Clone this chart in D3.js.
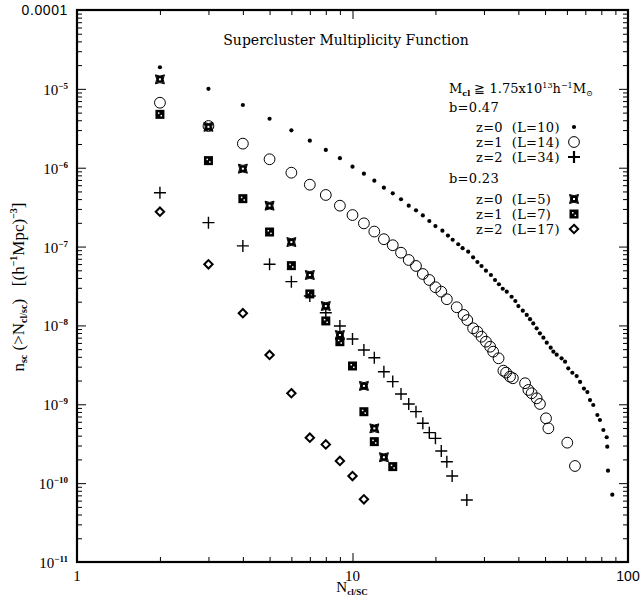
<!DOCTYPE html>
<html>
<head>
<meta charset="utf-8">
<script src="https://cdn.jsdelivr.net/npm/d3@7"></script>
<style>
  body { margin: 0; background: #fff; }
  .tick line { stroke: #000; stroke-width: 1px; }
  text { fill: #000; }
</style>
</head>
<body>
<div id="chart-area"></div>
<script>
// b=0.47, z=0 (L=10) : small dots
const b47z0N = [2,3,4,5,6,7,8,9,10,11,12,13,14,15,16,17,18,19,20,
    21.2,22.2,23.1,24.2,25.1,26.3,27.4,28.4,29.4,30.5,31.8,
    32.9,34.0,35.1,36.3,37.8,39.0,40.0,41.5,42.9,44.1,45.3,46.6,47.9,49.3,50.7,52.4,53.6,55.1,
    57.4,59.1,60.7,62.8,65.1,67.0,69.2,71.2,72.8,74.8,77.4,79.1,81.4,83.7,84.1,84.6,87.7];
const b47z0n = [1.88e-5,1.00e-5,6.24e-6,4.18e-6,2.98e-6,2.20e-6,1.68e-6,1.32e-6,1.03e-6,8.40e-7,
    6.85e-7,5.58e-7,4.74e-7,3.98e-7,3.30e-7,2.88e-7,2.48e-7,2.11e-7,1.82e-7,
    1.59e-7,1.38e-7,1.22e-7,1.07e-7,9.53e-8,8.61e-8,7.31e-8,6.37e-8,5.67e-8,4.94e-8,4.36e-8,
    3.77e-8,3.33e-8,2.92e-8,2.68e-8,2.31e-8,2.04e-8,1.76e-8,1.54e-8,1.36e-8,1.20e-8,1.06e-8,
    9.20e-9,7.95e-9,7.00e-9,6.04e-9,5.22e-9,4.65e-9,4.26e-9,3.83e-9,3.47e-9,2.86e-9,2.51e-9,
    2.28e-9,1.92e-9,1.58e-9,1.43e-9,1.13e-9,9.79e-10,7.31e-10,6.32e-10,4.72e-10,3.82e-10,
    2.90e-10,1.44e-10,7.14e-11];

// b=0.47, z=1 (L=14) : open circles
const b47z1N = [2,3,4,5,6,7,8,9,10,11,12,13,14,15,16,17,18,19,20,21,22,
    23.9,25.3,26.1,27.4,28.4,29.4,30.5,31.6,32.4,33.9,35.3,36.1,37.3,38.2,
    42.3,43.5,44.7,46.6,47.9,50.4,51.4,60.2,64.2];
const b47z1n = [6.67e-6,3.38e-6,2.02e-6,1.28e-6,8.65e-7,6.09e-7,4.51e-7,3.30e-7,2.51e-7,1.97e-7,
    1.55e-7,1.24e-7,1.04e-7,8.36e-8,6.76e-8,5.68e-8,4.49e-8,3.77e-8,3.05e-8,2.68e-8,2.15e-8,
    1.70e-8,1.36e-8,1.17e-8,9.20e-9,8.34e-9,7.20e-9,6.22e-9,5.37e-9,4.65e-9,3.83e-9,2.67e-9,
    2.52e-9,2.24e-9,2.14e-9,1.85e-9,1.52e-9,1.38e-9,1.19e-9,1.01e-9,6.64e-10,4.96e-10,
    3.26e-10,1.65e-10];

// b=0.47, z=2 (L=34) : pluses
const b47z2N = [2,3,4,5,6,7,8,9,10,11,12,13,14,15,16,17,18,19,20,21,22,23,26];
const b47z2n = [4.82e-7,2.01e-7,1.02e-7,5.96e-8,3.59e-8,2.36e-8,1.45e-8,9.84e-9,6.73e-9,4.89e-9,
    3.90e-9,2.59e-9,1.94e-9,1.35e-9,1.01e-9,8.06e-10,5.74e-10,4.37e-10,3.70e-10,2.56e-10,
    1.87e-10,1.23e-10,6.12e-11];

// b=0.23, z=0 (L=5) : filled stars
const b23z0N = [2,3,4,5,6,7,8,9,11,12,13];
const b23z0n = [1.32e-5,3.30e-6,9.72e-7,3.30e-7,1.14e-7,4.36e-8,1.76e-8,7.56e-9,1.71e-9,4.95e-10,2.13e-10];

// b=0.23, z=1 (L=7) : filled squares
const b23z1N = [2,3,4,5,6,7,8,9,10,11,12,14];
const b23z1n = [4.75e-6,1.23e-6,4.05e-7,1.53e-7,5.73e-8,2.51e-8,1.14e-8,6.22e-9,3.06e-9,8.05e-10,3.36e-10,1.62e-10];

// b=0.23, z=2 (L=17) : open diamonds
const b23z2N = [2,3,4,5,6,7,8,9,10,11];
const b23z2n = [2.77e-7,5.96e-8,1.43e-8,4.22e-9,1.38e-9,3.77e-10,3.10e-10,1.91e-10,1.23e-10,6.24e-11];

const yDecades = [1e-4,1e-5,1e-6,1e-7,1e-8,1e-9,1e-10,1e-11];
const yExponents = ["-5","-6","-7","-8","-9","-10","-11"];
const xLabels = [1, 10, 100];

const W = 642, H = 605;
const margin = { left: 77, right: 628, top: 10, bottom: 562 };

const svg = d3.select("#chart-area").append("svg")
    .attr("width", W)
    .attr("height", H);

const x = d3.scaleLog().domain([1, 100]).range([margin.left, margin.right]);
const y = d3.scaleLog().domain([1e-11, 1e-4]).range([margin.bottom, margin.top]);

// minor tick values
const xMinor = [];
[1, 10].forEach(d => { for (let k = 2; k <= 9; k++) xMinor.push(d * k); });
const yMinor = [];
yDecades.slice(1).forEach(d => { for (let k = 2; k <= 9; k++) yMinor.push(d * k); });

function tickAxis(gen, vals, size, tr) {
    const g = svg.append("g")
        .attr("transform", tr)
        .call(gen.tickValues(vals).tickSize(-size).tickFormat(""));
    g.select(".domain").remove();
    return g;
}
tickAxis(d3.axisBottom(x), xMinor, 5, "translate(0," + margin.bottom + ")");
tickAxis(d3.axisBottom(x), [10], 9, "translate(0," + margin.bottom + ")");
tickAxis(d3.axisTop(x), xMinor, 5, "translate(0," + margin.top + ")");
tickAxis(d3.axisTop(x), [10], 9, "translate(0," + margin.top + ")");
tickAxis(d3.axisLeft(y), yMinor, 5, "translate(" + margin.left + ",0)");
tickAxis(d3.axisLeft(y), yDecades, 9, "translate(" + margin.left + ",0)");
tickAxis(d3.axisRight(y), yMinor, 5, "translate(" + margin.right + ",0)");
tickAxis(d3.axisRight(y), yDecades, 9, "translate(" + margin.right + ",0)");

// frame
svg.append("rect")
    .attr("x", margin.left).attr("y", margin.top)
    .attr("width", margin.right - margin.left).attr("height", margin.bottom - margin.top)
    .attr("fill", "none")
    .attr("stroke", "#000")
    .attr("stroke-width", 2.2);

// y tick labels
svg.append("text")
    .attr("x", 68).attr("y", y(1e-4) + 5)
    .attr("text-anchor", "end")
    .style("font-family", "Liberation Sans")
    .style("font-size", "14px")
    .style("letter-spacing", "0.6px")
    .text("0.0001");

yDecades.slice(1).forEach((d, i) => {
    const t = svg.append("text")
        .attr("x", 68).attr("y", y(d) + 6)
        .attr("text-anchor", "end")
        .style("font-family", "Liberation Serif")
        .style("font-size", "15px");
    t.append("tspan").text("10");
    t.append("tspan")
        .attr("dy", -6)
        .style("font-size", "9px")
        .style("font-weight", "bold")
        .text(yExponents[i].replace("-", "\u2212"));
});

// x tick labels
xLabels.forEach(d => {
    svg.append("text")
        .attr("x", x(d)).attr("y", 581)
        .attr("text-anchor", "middle")
        .style("font-family", d === 100 ? "Liberation Sans" : "Liberation Serif")
        .style("font-size", d === 100 ? "14px" : "15px")
        .text(d);
});

// axis titles
const xt = svg.append("text")
    .attr("x", 352).attr("y", 592)
    .attr("text-anchor", "middle")
    .style("font-family", "Liberation Serif")
    .style("font-size", "15px");
xt.append("tspan").text("N");
xt.append("tspan").attr("dy", 3).style("font-size", "9px").style("font-weight", "bold").text("cl/SC");

const yt = svg.append("text")
    .attr("transform", "translate(24,287) rotate(-90)")
    .attr("text-anchor", "middle")
    .style("font-family", "Liberation Serif")
    .style("font-size", "17px");
yt.append("tspan").text("n");
yt.append("tspan").attr("dy", 3).style("font-size", "10px").style("font-weight", "bold").text("sc");
yt.append("tspan").attr("dy", -3).text(" (>N");
yt.append("tspan").attr("dy", 3).style("font-size", "10px").style("font-weight", "bold").text("cl/sc");
yt.append("tspan").attr("dy", -3).text(")\u00a0\u00a0\u00a0[(h");
yt.append("tspan").attr("dy", -7).style("font-size", "10px").style("font-weight", "bold").text("\u22121");
yt.append("tspan").attr("dy", 7).text("Mpc)");
yt.append("tspan").attr("dy", -7).style("font-size", "10px").style("font-weight", "bold").text("\u22123");
yt.append("tspan").attr("dy", 7).text("]");

// title
svg.append("text")
    .attr("x", 346).attr("y", 45)
    .attr("text-anchor", "middle")
    .style("font-family", "DejaVu Serif")
    .style("font-size", "14px")
    .text("Supercluster Multiplicity Function");

// marker drawers
const markers = {
    dot: g => g.append("circle").attr("r", 2.1).attr("fill", "#000"),
    circle: g => g.append("circle").attr("r", 5.4).attr("fill", "none")
        .attr("stroke", "#000").attr("stroke-width", 1),
    plus: g => g.append("path").attr("d", "M-6,0H6M0,-6V6")
        .attr("stroke", "#000").attr("stroke-width", 1.4),
    star: g => {
        g.append("path")
            .attr("d", "M-4.5,-4.5Q0,-2 4.5,-4.5Q2,0 4.5,4.5Q0,2 -4.5,4.5Q-2,0 -4.5,-4.5Z")
            .attr("fill", "#000").attr("stroke", "#000").attr("stroke-width", 1);
        g.append("rect").attr("x", -1).attr("y", -1).attr("width", 2).attr("height", 2).attr("fill", "#fff");
    },
    square: g => {
        g.append("rect").attr("x", -4.5).attr("y", -4.5).attr("width", 9).attr("height", 9).attr("fill", "#000");
        g.append("rect").attr("x", -2).attr("y", -2).attr("width", 1.5).attr("height", 1.5).attr("fill", "#fff");
        g.append("rect").attr("x", 0.6).attr("y", 0.6).attr("width", 1.5).attr("height", 1.5).attr("fill", "#fff");
    },
    diamond: g => g.append("path").attr("d", "M0,-4.2L4.2,0L0,4.2L-4.2,0Z")
        .attr("fill", "#fff").attr("stroke", "#000").attr("stroke-width", 2)
};

const series = [
    { N: b23z2N, n: b23z2n, m: "diamond" },
    { N: b23z1N, n: b23z1n, m: "square" },
    { N: b47z2N, n: b47z2n, m: "plus" },
    { N: b23z0N, n: b23z0n, m: "star" },
    { N: b47z1N, n: b47z1n, m: "circle" },
    { N: b47z0N, n: b47z0n, m: "dot" }
];

series.forEach(s => {
    const pts = d3.zip(s.N, s.n);
    svg.append("g").selectAll("g")
        .data(pts)
        .join("g")
        .attr("transform", d => "translate(" + x(d[0]) + "," + y(d[1]) + ")")
        .each(function() { markers[s.m](d3.select(this)); });
});

// legend
const lg = svg.append("g")
    .style("font-family", "DejaVu Serif")
    .style("font-size", "13px");

const mt = lg.append("text").attr("x", 449).attr("y", 93);
mt.append("tspan").text("M");
mt.append("tspan").attr("dy", 3).style("font-size", "8px").style("font-weight", "bold").text("cl");
mt.append("tspan").attr("dy", -3).text(" \u2267 1.75x10");
mt.append("tspan").attr("dy", -5).style("font-size", "8px").text("13");
mt.append("tspan").attr("dy", 5).text("h");
mt.append("tspan").attr("dy", -5).style("font-size", "8px").text("\u22121");
mt.append("tspan").attr("dy", 5).text("M");
mt.append("tspan").attr("dy", 3).style("font-size", "8px").text("\u2299");

const legendRows = [
    { label: "b=0.47", y: 112, x: 449 },
    { label: "z=0  (L=10)", y: 132, x: 476, m: "dot", my: 127 },
    { label: "z=1  (L=14)", y: 147, x: 476, m: "circle", my: 142 },
    { label: "z=2  (L=34)", y: 162, x: 476, m: "plus", my: 157 },
    { label: "b=0.23", y: 183, x: 449 },
    { label: "z=0  (L=5)", y: 204, x: 476, m: "star", my: 199 },
    { label: "z=1  (L=7)", y: 219, x: 476, m: "square", my: 214 },
    { label: "z=2  (L=17)", y: 234, x: 476, m: "diamond", my: 229 }
];
legendRows.forEach(r => {
    lg.append("text").attr("x", r.x).attr("y", r.y)
        .style("letter-spacing", "0.3px")
        .style("white-space", "pre")
        .text(r.label);
    if (r.m) {
        const g = lg.append("g").attr("transform", "translate(574," + r.my + ")");
        markers[r.m](g);
        if (r.m === "plus") g.select("path").attr("stroke-width", 2.2);
    }
});
</script>
</body>
</html>
